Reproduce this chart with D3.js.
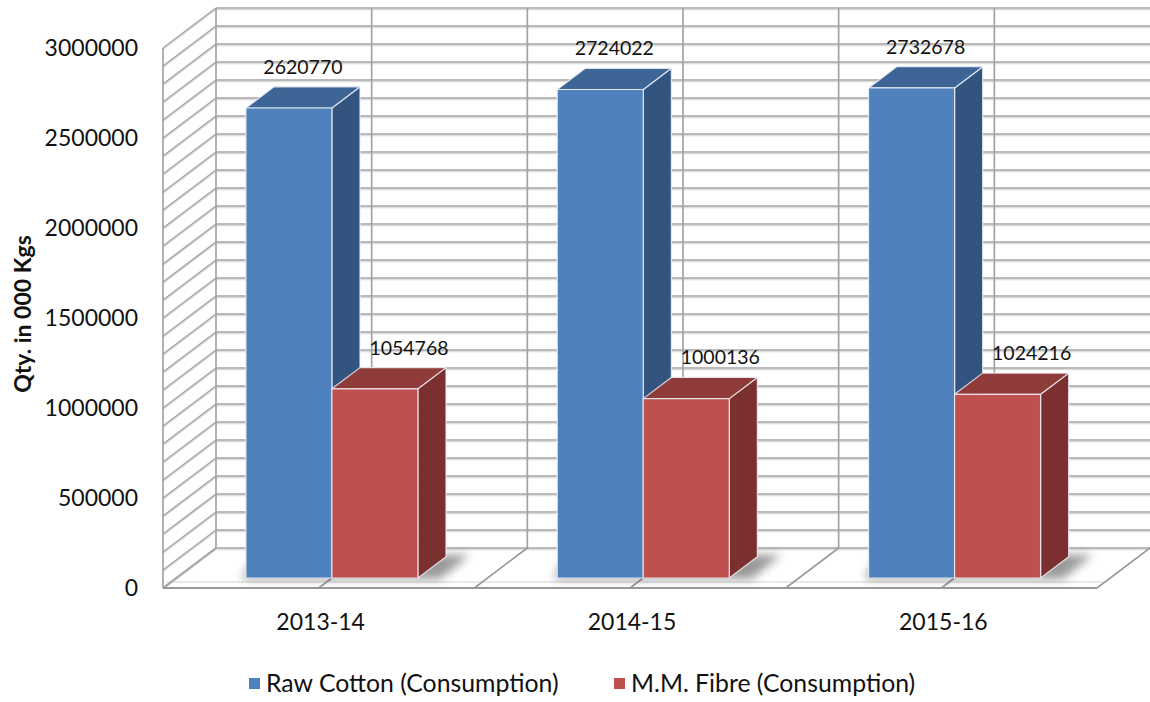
<!DOCTYPE html>
<html>
<head>
<meta charset="utf-8">
<script src="https://cdn.jsdelivr.net/npm/d3@7/dist/d3.min.js"></script>
<style>
  html, body { margin: 0; padding: 0; background: #fff; }
  svg { display: block; font-family: Lato, "Open Sans", sans-serif; }
</style>
</head>
<body>
<svg id="chart" width="1150" height="702"></svg>
<script>
// Fibre consumption by year (quantity in 000 kgs)
const categories = ["2013-14", "2014-15", "2015-16"];
const rawCotton = [2620770, 2724022, 2732678];
const mmFibre = [1054768, 1000136, 1024216];
const seriesNames = ["Raw Cotton (Consumption)", "M.M. Fibre (Consumption)"];
const yTickValues = [0, 500000, 1000000, 1500000, 2000000, 2500000, 3000000];
const yMax = 3000000;
const gridStep = 100000;

const series = [
  { name: seriesNames[0], values: rawCotton, front: "#4f81bd", top: "#3d6596", side: "#33547f", labelShift: 0 },
  { name: seriesNames[1], values: mmFibre, front: "#c0504d", top: "#8f3b39", side: "#7b2f2e", labelShift: 20 }
];

const svg = d3.select("#chart");

// oblique projection: depth vector of the whole plot box
const depth = { dx: 53, dy: -40 };
const frontLeft = 163, frontRight = 1097, frontBottom = 588, frontTop = 48;

const yFront = d3.scaleLinear().domain([0, yMax]).range([frontBottom, frontTop]);
const x = d3.scaleBand().domain(categories).range([frontLeft, frontRight]).padding(0);
const bw = x.bandwidth();
const xs = d3.scaleBand().domain(d3.range(series.length)).range([0, bw]).paddingInner(0).paddingOuter(0.81);

// bars sit a quarter of the way into the box and fill about half of its depth
const barZ0 = 0.25, barZ = 0.53;
const bOff = { dx: depth.dx * barZ0, dy: depth.dy * barZ0 };
const bDep = { dx: depth.dx * barZ, dy: depth.dy * barZ };
const yBar = d3.scaleLinear().domain([0, yMax]).range([frontBottom + bOff.dy, frontBottom + bOff.dy - 538]);

const defs = svg.append("defs");
defs.append("filter").attr("id", "soft").attr("x", "-50%").attr("y", "-50%").attr("width", "200%").attr("height", "200%")
  .append("feGaussianBlur").attr("stdDeviation", 5);

const gridColor = "#a3a3a3";
const gridHalo = "#dcdcdc";
const grid = svg.append("g");
const gridValues = d3.range(0, yMax + 1, gridStep);

// floor
const bx0 = frontLeft + depth.dx, bx1 = frontRight + depth.dx;
grid.append("path")
  .attr("d", `M${frontLeft},${frontBottom}L${frontRight},${frontBottom}L${bx1},${frontBottom + depth.dy}L${bx0},${frontBottom + depth.dy}Z`)
  .attr("fill", "#fff");
grid.append("line")
  .attr("x1", frontLeft + 4).attr("x2", frontRight + 6)
  .attr("y1", frontBottom - 6).attr("y2", frontBottom - 6)
  .attr("stroke", "#d4d4d4").attr("stroke-width", 1.2);

// back wall horizontal gridlines
gridValues.forEach(v => {
  const y = yFront(v) + depth.dy;
  grid.append("line").attr("x1", bx0).attr("x2", 1150).attr("y1", y + 1.6).attr("y2", y + 1.6)
    .attr("stroke", gridHalo).attr("stroke-width", 1.4);
  grid.append("line").attr("x1", bx0).attr("x2", 1150).attr("y1", y).attr("y2", y)
    .attr("stroke", gridColor).attr("stroke-width", 1.7);
});

// side wall slanted gridlines
gridValues.forEach(v => {
  const y = yFront(v);
  grid.append("line").attr("x1", frontLeft).attr("y1", y + 1.4).attr("x2", bx0).attr("y2", y + depth.dy + 1.4)
    .attr("stroke", gridHalo).attr("stroke-width", 1.2);
  grid.append("line").attr("x1", frontLeft).attr("y1", y).attr("x2", bx0).attr("y2", y + depth.dy)
    .attr("stroke", gridColor).attr("stroke-width", 1.5);
});

// vertical gridlines on the back wall and their floor lines
const vx = [];
categories.forEach(c => { vx.push(x(c)); vx.push(x(c) + bw / 2); });
vx.push(frontRight);
vx.forEach((fx, i) => {
  if (i > 0 && i < vx.length - 1) {
    grid.append("line").attr("x1", fx + depth.dx).attr("x2", fx + depth.dx)
      .attr("y1", yFront(yMax) + depth.dy).attr("y2", frontBottom + depth.dy)
      .attr("stroke", gridColor).attr("stroke-width", 1.7);
  }
  grid.append("line").attr("x1", fx).attr("y1", frontBottom).attr("x2", fx + depth.dx).attr("y2", frontBottom + depth.dy)
    .attr("stroke", i === 0 ? gridColor : "#9a9a9a").attr("stroke-width", 1.6);
});
grid.append("line").attr("x1", bx0).attr("x2", bx0)
  .attr("y1", yFront(yMax) + depth.dy).attr("y2", frontBottom + depth.dy)
  .attr("stroke", gridColor).attr("stroke-width", 1.7);
// side wall front edge
grid.append("line").attr("x1", frontLeft).attr("x2", frontLeft)
  .attr("y1", yFront(yMax)).attr("y2", frontBottom)
  .attr("stroke", gridColor).attr("stroke-width", 1.7);
// floor front edge
grid.append("line").attr("x1", frontLeft).attr("x2", frontRight)
  .attr("y1", frontBottom).attr("y2", frontBottom)
  .attr("stroke", "#999").attr("stroke-width", 2.2);

// soft shadows on the floor behind each category's bars
const shadows = svg.append("g").attr("filter", "url(#soft)");
categories.forEach(c => {
  const l = x(c) + bOff.dx + xs(0);
  const r = x(c) + bOff.dx + xs(series.length - 1) + xs.bandwidth();
  const yb = yBar(0);
  shadows.append("path")
    .attr("d", `M${l - 4},${yb + 1}L${l + 10},${yb + bDep.dy - 2}L${r + bDep.dx + 24},${yb + bDep.dy - 2}L${r + 22},${yb + 1}Z`)
    .attr("fill", "#000").attr("opacity", 0.4);
});

// bars: side, top, front faces
const bars = svg.append("g");
categories.forEach((c, ci) => {
  series.forEach((s, si) => {
    const v = s.values[ci];
    const x0 = x(c) + bOff.dx + xs(si), x1 = x0 + xs.bandwidth();
    const y0 = yBar(0), y1 = yBar(v);
    const g = bars.append("g").attr("stroke", "rgba(235,240,248,0.85)").attr("stroke-width", 1.2).attr("stroke-linejoin", "round");
    g.append("path")
      .attr("d", `M${x1},${y1}L${x1 + bDep.dx},${y1 + bDep.dy}L${x1 + bDep.dx},${y0 + bDep.dy}L${x1},${y0}Z`)
      .attr("fill", s.side);
    g.append("path")
      .attr("d", `M${x0},${y1}L${x0 + bDep.dx},${y1 + bDep.dy}L${x1 + bDep.dx},${y1 + bDep.dy}L${x1},${y1}Z`)
      .attr("fill", s.top);
    g.append("rect").attr("x", x0).attr("y", y1).attr("width", x1 - x0).attr("height", y0 - y1)
      .attr("fill", s.front);
    svg.append("text")
      .attr("x", (x0 + x1) / 2 + bDep.dx / 2 + s.labelShift)
      .attr("y", y1 + bDep.dy - 13)
      .attr("text-anchor", "middle")
      .attr("font-size", 19.5).attr("fill", "#111")
      .text(v);
  });
});

// value axis labels
svg.append("g").selectAll("text").data(yTickValues).join("text")
  .attr("x", 138).attr("y", d => yFront(d)).attr("dy", "0.35em")
  .attr("text-anchor", "end").attr("font-size", 23).attr("fill", "#111")
  .text(d => d);

// category labels
svg.append("g").selectAll("text").data(categories).join("text")
  .attr("x", d => x(d) + bw / 2 + 2).attr("y", 630)
  .attr("text-anchor", "middle").attr("font-size", 23).attr("fill", "#111")
  .text(d => d);

// axis title
svg.append("text")
  .attr("transform", "translate(31,314) rotate(-90)")
  .attr("text-anchor", "middle").attr("font-size", 23).attr("font-weight", "bold").attr("fill", "#111")
  .text("Qty. in 000 Kgs");

// legend
const legendX = [249, 614];
const legend = svg.append("g");
series.forEach((s, i) => {
  legend.append("rect").attr("x", legendX[i]).attr("y", 678).attr("width", 11).attr("height", 11).attr("fill", s.front);
  legend.append("text").attr("x", legendX[i] + 17).attr("y", 692)
    .attr("font-size", 24.8).attr("fill", "#111").text(s.name);
});
</script>
</body>
</html>
